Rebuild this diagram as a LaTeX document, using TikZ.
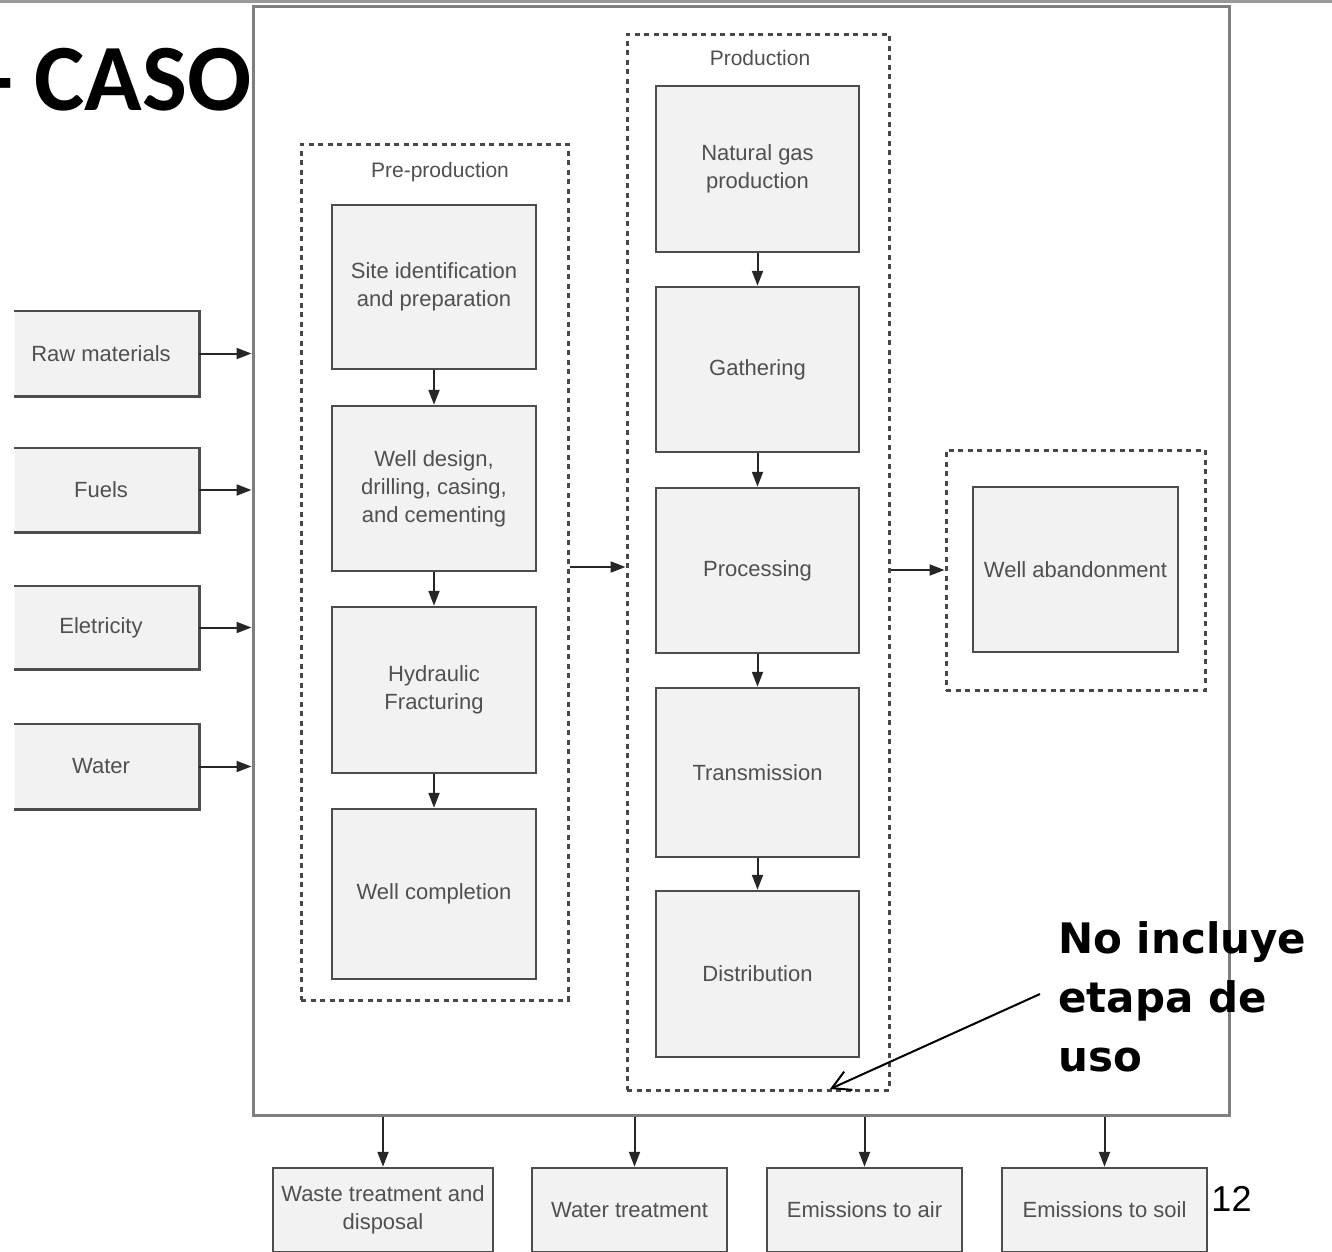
\documentclass[tikz,border=0pt]{standalone}
\usepackage{fontspec}
\setmainfont{Liberation Sans}
\newfontfamily\headfont{Carlito}
\newfontfamily\notefont{DejaVu Sans}
\usetikzlibrary{arrows.meta}

\definecolor{boxfill}{HTML}{F2F2F2}
\definecolor{boxline}{HTML}{4D4D4D}
\definecolor{labelgray}{HTML}{505050}
\definecolor{framegray}{HTML}{7F7F7F}
\definecolor{dashgray}{HTML}{484848}

\begin{document}
\begin{tikzpicture}[x=1pt,y=-1pt,
  stage/.style={rectangle, draw=boxline, fill=boxfill, line width=2.5pt,
    text=labelgray, align=center, inner sep=0pt,
    font=\fontsize{22}{28}\selectfont},
  inbox/.style={stage, draw=none},
  phase/.style={rectangle, draw=dashgray, line width=3pt,
    dash pattern=on 5pt off 4.5pt, inner sep=0pt},
  phaselabel/.style={text=labelgray, inner sep=0pt,
    font=\fontsize{21}{25}\selectfont},
  flow/.style={draw=black!85, line width=2pt,
    -{Triangle[length=15pt,width=11pt]}},
  note/.style={draw=black, line width=2pt,
    -{Straight Barb[length=18pt,width=20pt,line width=2pt]}},
]
\useasboundingbox (0,0) rectangle (1332,1251);
\clip (0,0) rectangle (1332,1251);

% edge of the slide above the figure
\draw[framegray!80, line width=3pt] (0,1.5) -- (1332,1.5);

% slide title, partly hidden by the figure
\node[font=\headfont\bfseries\fontsize{95}{95}\selectfont, anchor=base west,
  inner sep=0pt] (title) at (-16,110) {- CASO};

% system boundary
\node[rectangle, draw=framegray, fill=white, line width=3pt,
  minimum width=976pt, minimum height=1109pt] (frame) at (741,560.5) {};

% inputs (their left sides run off the slide)
\node[inbox, minimum width=183pt, minimum height=83pt] (raw)  at (106.5,353.5) {\hspace*{-11pt}Raw materials};
\node[inbox, minimum width=183pt, minimum height=82pt] (fuel) at (106.5,490)   {\hspace*{-11pt}Fuels};
\node[inbox, minimum width=183pt, minimum height=81pt] (elec) at (106.5,627.5) {\hspace*{-11pt}Eletricity};
\node[inbox, minimum width=183pt, minimum height=83pt] (wat)  at (106.5,766.5) {\hspace*{-11pt}Water};
\foreach \n in {raw,fuel,elec,wat}{
  \draw[boxline, line width=2.5pt] (\n.north west) -- (\n.north east)
    -- (\n.south east) -- (\n.south west);
  \draw[flow] (\n.east) -- (\n.east -| frame.west);
}

% pre-production phase
\node[phase, minimum width=267pt, minimum height=856pt] (pre) at (434.5,572) {};
\node[phaselabel] (prelabel) at (440,172) {Pre-production};
\node[stage, minimum width=204pt, minimum height=164pt] (site)   at (434,287)   {Site identification\\and preparation};
\node[stage, minimum width=204pt, minimum height=165pt] (design) at (434,488.5) {Well design,\\drilling, casing,\\and cementing};
\node[stage, minimum width=204pt, minimum height=166pt] (frac)   at (434,690)   {Hydraulic\\Fracturing};
\node[stage, minimum width=204pt, minimum height=170pt] (compl)  at (434,894)   {Well completion};
\draw[flow] (site) -- (design);
\draw[flow] (design) -- (frac);
\draw[flow] (frac) -- (compl);

% production phase
\node[phase, minimum width=262pt, minimum height=1056pt] (prod) at (758,562) {};
\node[phaselabel] (prodlabel) at (760,58) {Production};
\node[stage, minimum width=203pt, minimum height=166pt] (gas)   at (757.5,169)   {Natural gas\\production};
\node[stage, minimum width=203pt, minimum height=165pt] (gath)  at (757.5,369.5) {Gathering};
\node[stage, minimum width=203pt, minimum height=165pt] (proc)  at (757.5,570.5) {Processing};
\node[stage, minimum width=203pt, minimum height=169pt] (trans) at (757.5,772.5) {Transmission};
\node[stage, minimum width=203pt, minimum height=166pt] (dist)  at (757.5,974)   {Distribution};
\draw[flow] (gas) -- (gath);
\draw[flow] (gath) -- (proc);
\draw[flow] (proc) -- (trans);
\draw[flow] (trans) -- (dist);

% end-of-life phase
\node[phase, minimum width=259pt, minimum height=240pt] (endlife) at (1075.5,570) {};
\node[stage, minimum width=205pt, minimum height=165pt] (aband) at (1075.5,569.5) {Well abandonment};

% links between phases
\draw[flow] ([yshift=5pt]pre.east) -- ([yshift=5pt]pre.east -| prod.west);
\draw[flow] (prod.east |- endlife.west) -- (endlife.west);

% outputs
\node[stage, minimum width=220pt, minimum height=84pt] (waste) at (383,1210)    {Waste treatment and\\disposal};
\node[stage, minimum width=195pt, minimum height=84pt] (wtreat) at (629.5,1210) {Water treatment};
\node[stage, minimum width=195pt, minimum height=84pt] (air)   at (864.5,1210)  {Emissions to air};
\node[stage, minimum width=205pt, minimum height=84pt] (soil)  at (1104.5,1210) {Emissions to soil};
\coordinate (wtreatin) at ([xshift=5pt]wtreat.north);
\draw[flow] (frame.south -| waste.north) -- (waste.north);
\draw[flow] (frame.south -| wtreatin) -- (wtreatin);
\draw[flow] (frame.south -| air.north) -- (air.north);
\draw[flow] (frame.south -| soil.north) -- (soil.north);

% page number
\node[font=\fontsize{36}{36}\selectfont, inner sep=0pt] (pagenum) at (1231.5,1198.5) {12};

% remark pointing at the end of the production phase
\node[font=\notefont\bfseries\fontsize{42}{59}\selectfont, align=left,
  anchor=north west, inner sep=0pt] (remark) at (1058,921) {No incluye\\etapa de\\uso};
\coordinate (remarkfrom) at (1040,994);
\coordinate (remarkto) at (830,1089);
\draw[note] (remarkfrom) -- (remarkto);
\end{tikzpicture}
\end{document}
